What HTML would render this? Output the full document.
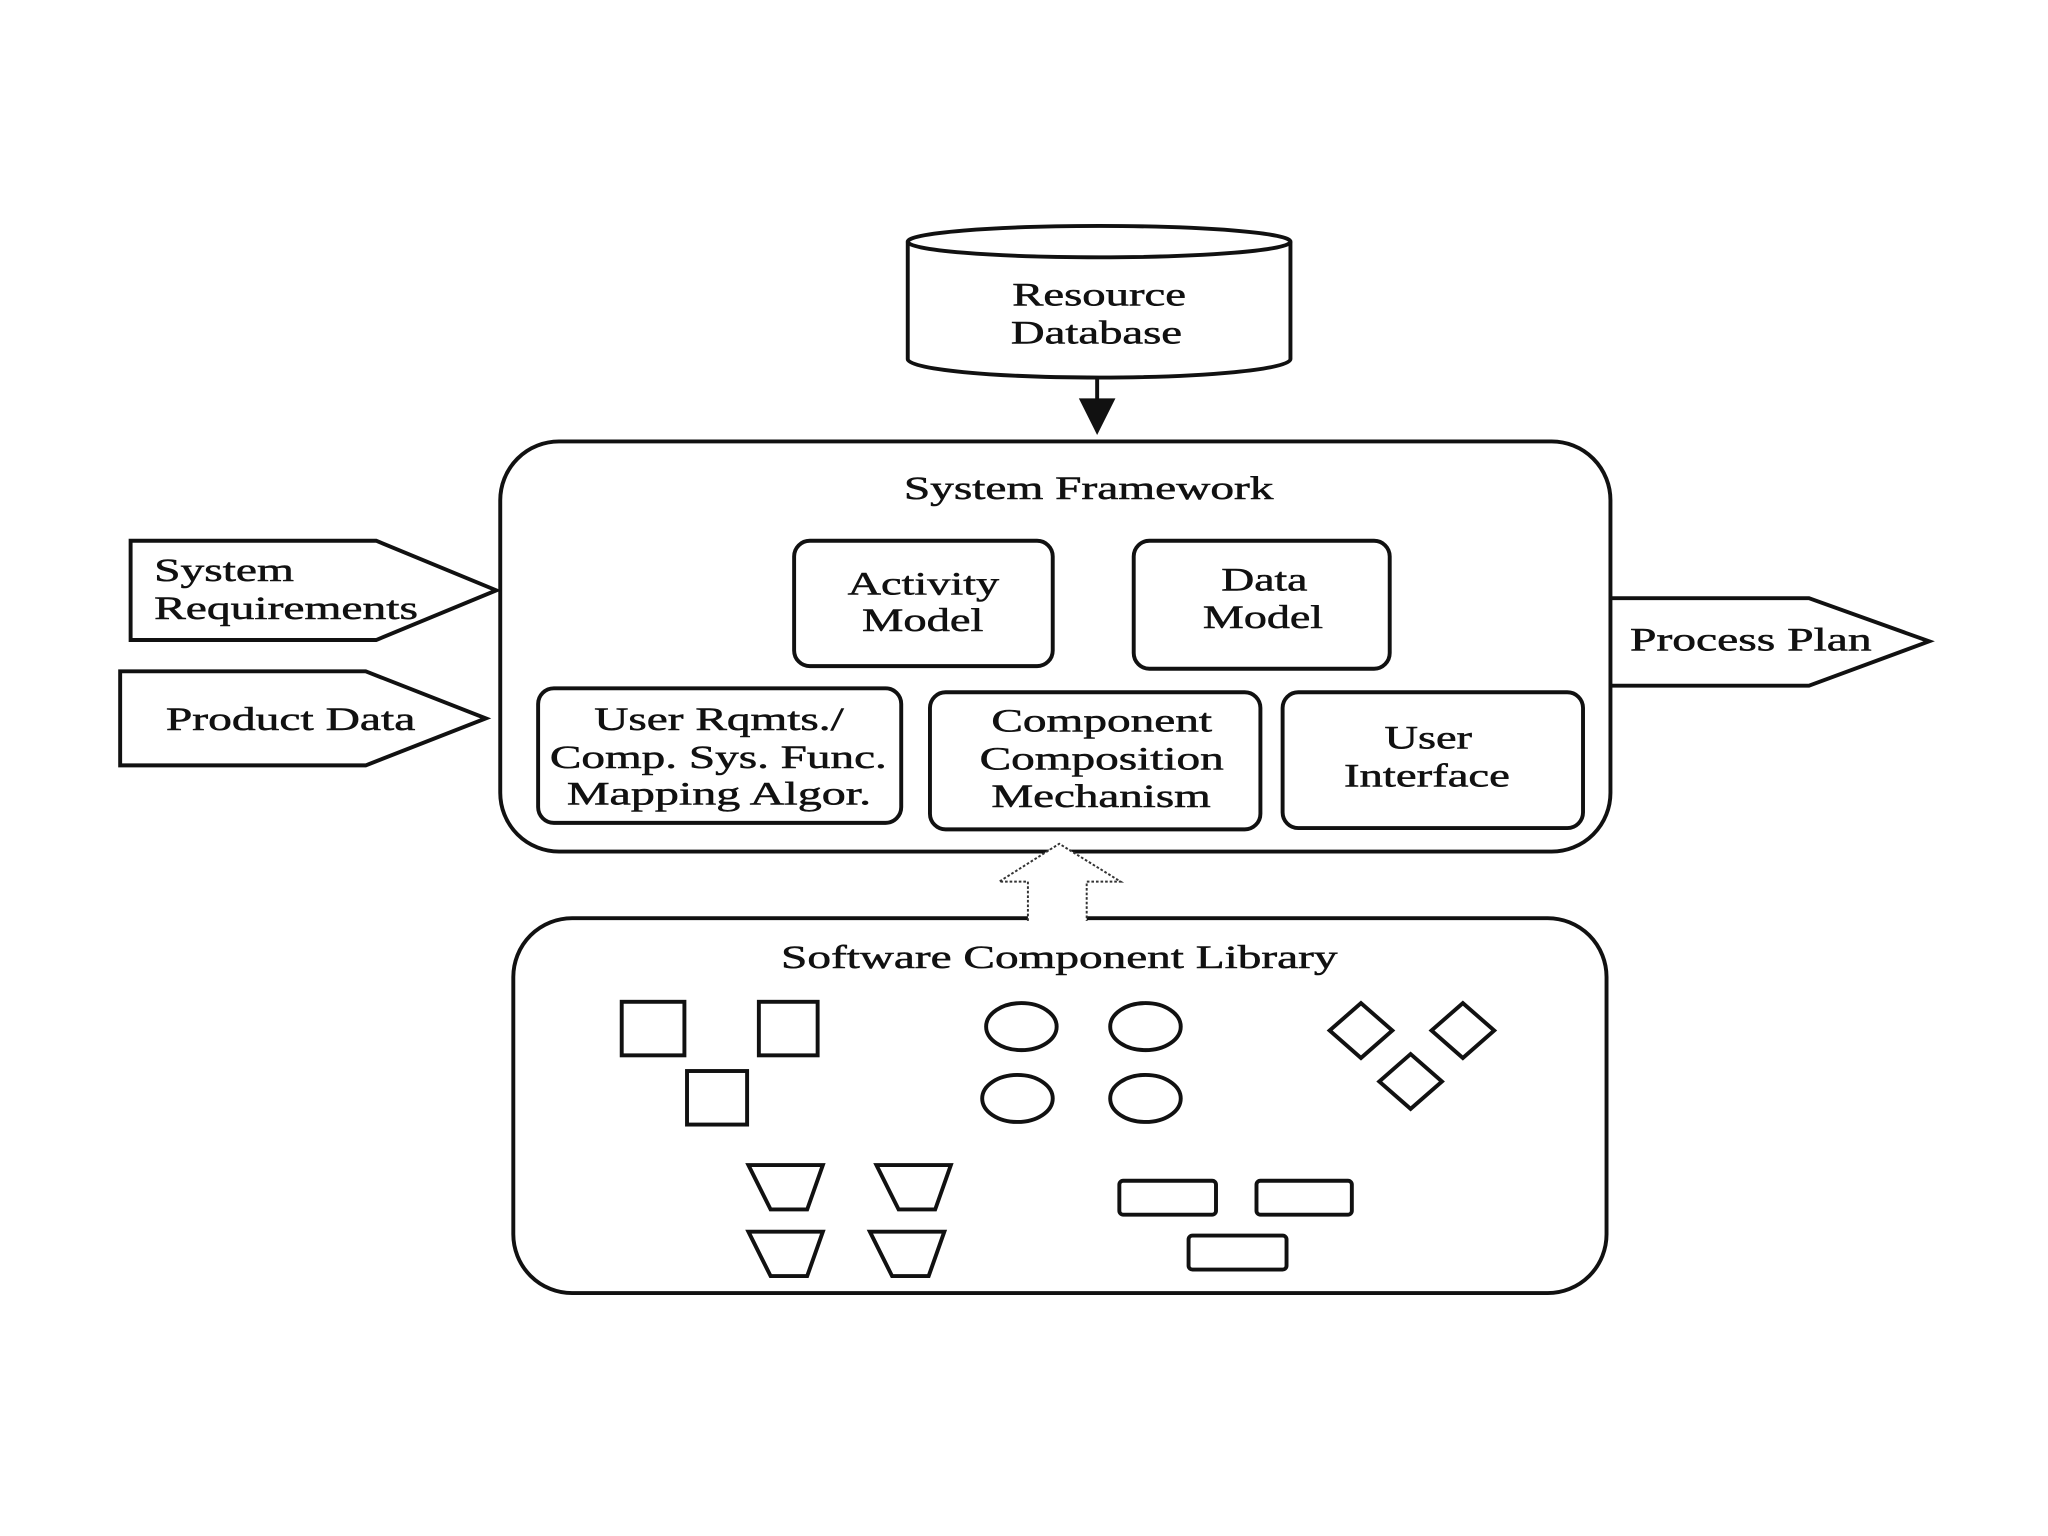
<!DOCTYPE html>
<html><head><meta charset="utf-8"><style>html,body{margin:0;padding:0;background:#fff}svg{display:block}</style></head>
<body>
<svg width="2048" height="1536" viewBox="0 0 1568 1176" xmlns="http://www.w3.org/2000/svg">
<rect width="1568" height="1176" fill="#fff"/>
<g fill="none" stroke="#111" stroke-width="3">
<path d="M695,185 L695,275 A146,14 0 0 0 988,275 L988,185"/>
<ellipse cx="841.5" cy="185" rx="146.5" ry="12"/>
<line x1="840" y1="290" x2="840" y2="310"/>
<rect x="383" y="338" width="850" height="314" rx="45"/>
<rect x="608" y="414" width="198" height="96" rx="12"/>
<rect x="868" y="414" width="196" height="98" rx="12"/>
<rect x="412" y="527" width="278" height="103" rx="12"/>
<rect x="712" y="530" width="253" height="105" rx="12"/>
<rect x="982" y="530" width="230" height="104" rx="12"/>
<path d="M100,414 L288,414 L380,452 L288,490 L100,490 Z"/>
<path d="M92,514 L280,514 L372,550 L280,586 L92,586 Z"/>
<path d="M1233,458 L1385,458 L1477,491 L1385,525 L1233,525"/>
<rect x="393" y="703" width="837" height="287" rx="45"/>
<rect x="476" y="767" width="48" height="41"/>
<rect x="581" y="767" width="45" height="41"/>
<rect x="526" y="820" width="46" height="41"/>
<ellipse cx="782" cy="786" rx="27" ry="18"/>
<ellipse cx="877" cy="786" rx="27" ry="18"/>
<ellipse cx="779" cy="841" rx="27" ry="18"/>
<ellipse cx="877" cy="841" rx="27" ry="18"/>
<path d="M1042,768 L1066,789 L1042,810 L1018,789 Z"/>
<path d="M1120,768 L1144,789 L1120,810 L1096,789 Z"/>
<path d="M1080,807 L1104,828 L1080,849 L1056,828 Z"/>
<path d="M573,892 L630,892 L618,926 L590,926 Z"/>
<path d="M671,892 L728,892 L716,926 L688,926 Z"/>
<path d="M573,943 L630,943 L618,977 L590,977 Z"/>
<path d="M666,943 L723,943 L711,977 L683,977 Z"/>
<rect x="857" y="904" width="74" height="26" rx="3"/>
<rect x="962" y="904" width="73" height="26" rx="3"/>
<rect x="910" y="946" width="75" height="26" rx="3"/>
</g>
<path d="M826,305 L854,305 L840,333 Z" fill="#111"/>
<path d="M787,705 L787,675 L765,675 L811,646 L858,675 L832,675 L832,705" fill="#fff" stroke="#333" stroke-width="1.5" stroke-dasharray="2,1.5"/>
<g font-family="Liberation Serif, serif" font-size="25" fill="#111" stroke="#111" stroke-width="0.4" lengthAdjust="spacingAndGlyphs">
<text x="775" y="234" textLength="133" lengthAdjust="spacingAndGlyphs">Resource</text>
<text x="774" y="263" textLength="131" lengthAdjust="spacingAndGlyphs">Database</text>
<text x="692" y="382" textLength="283" lengthAdjust="spacingAndGlyphs">System Framework</text>
<text x="649" y="455" textLength="116" lengthAdjust="spacingAndGlyphs">Activity</text>
<text x="660" y="483" textLength="93" lengthAdjust="spacingAndGlyphs">Model</text>
<text x="935" y="452" textLength="66" lengthAdjust="spacingAndGlyphs">Data</text>
<text x="921" y="481" textLength="92" lengthAdjust="spacingAndGlyphs">Model</text>
<text x="455" y="559" textLength="191" lengthAdjust="spacingAndGlyphs">User Rqmts./</text>
<text x="421" y="588" textLength="258" lengthAdjust="spacingAndGlyphs">Comp. Sys. Func.</text>
<text x="434" y="616" textLength="233" lengthAdjust="spacingAndGlyphs">Mapping Algor.</text>
<text x="759" y="560" textLength="169" lengthAdjust="spacingAndGlyphs">Component</text>
<text x="750" y="589" textLength="187" lengthAdjust="spacingAndGlyphs">Composition</text>
<text x="759" y="618" textLength="168" lengthAdjust="spacingAndGlyphs">Mechanism</text>
<text x="1060" y="573" textLength="67" lengthAdjust="spacingAndGlyphs">User</text>
<text x="1029" y="602" textLength="127" lengthAdjust="spacingAndGlyphs">Interface</text>
<text x="598" y="741" textLength="426" lengthAdjust="spacingAndGlyphs">Software Component Library</text>
<text x="118" y="445" textLength="107" lengthAdjust="spacingAndGlyphs">System</text>
<text x="118" y="474" textLength="202" lengthAdjust="spacingAndGlyphs">Requirements</text>
<text x="127" y="559" textLength="191" lengthAdjust="spacingAndGlyphs">Product Data</text>
<text x="1248" y="498" textLength="185" lengthAdjust="spacingAndGlyphs">Process Plan</text>
</g>
</svg>
</body></html>
